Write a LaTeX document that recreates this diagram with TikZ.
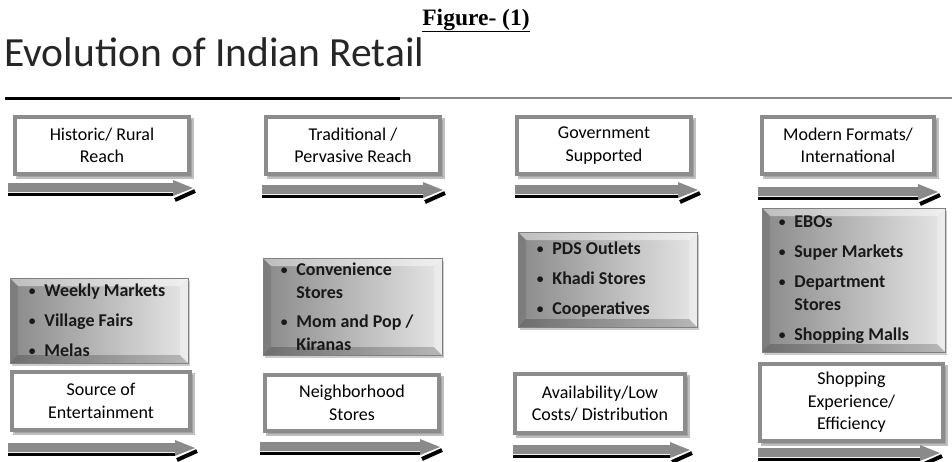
\documentclass[tikz,border=0pt]{standalone}
\usepackage{fontspec}
\usepackage{graphicx}
\setmainfont{Carlito}
\newfontfamily\figfont{Liberation Serif}
\usetikzlibrary{shadows,calc}
\definecolor{bordergray}{HTML}{8C8C8C}
\definecolor{arrowgray}{HTML}{8A8A8A}
\tikzset{
  labelbox/.style={rectangle, draw=bordergray, line width=4pt, fill=white, inner sep=0pt,
    align=center, font=\fontsize{18}{22.5}\selectfont,
    drop shadow={shadow xshift=3pt, shadow yshift=-3pt, fill=black!45, draw=black!45, line width=4pt, opacity=.55}},
  bevelbox/.style={rectangle, draw=black!50, line width=0.6pt, inner sep=0pt,
    drop shadow={shadow xshift=2pt, shadow yshift=-2.5pt, fill=black!40, opacity=.5},
    path picture={
      \coordinate (pnw) at (path picture bounding box.north west);
      \coordinate (pse) at (path picture bounding box.south east);
      \coordinate (pne) at (path picture bounding box.north east);
      \coordinate (psw) at (path picture bounding box.south west);
      \fill[left color=black!46, right color=black!10] (pnw) rectangle (pse);
      \fill[white, opacity=.45] (pnw) -- (pne) -- ($(pne)+(-8pt,-8pt)$) -- ($(pnw)+(8pt,-8pt)$) -- cycle;
      \fill[black, opacity=.10] (pnw) -- ($(pnw)+(8pt,-8pt)$) -- ($(psw)+(8pt,8pt)$) -- (psw) -- cycle;
      \fill[black, opacity=.20] (psw) -- ($(psw)+(8pt,8pt)$) -- ($(pse)+(-8pt,8pt)$) -- (pse) -- cycle;
      \fill[white, opacity=.30] (pne) -- (pse) -- ($(pse)+(-8pt,8pt)$) -- ($(pne)+(-8pt,-8pt)$) -- cycle;
    }},
  bullettext/.style={anchor=west, align=left, inner sep=0pt,
    font=\bfseries\fontsize{18}{23}\selectfont, text=black!90},
}
\newcommand{\bitem}[1]{\makebox[15.5pt][l]{\raisebox{1pt}{\scalebox{0.75}{\textbullet}}}#1}
\newcommand{\bcont}[1]{\hspace*{15.5pt}#1}
% \retarrow{x0}{tip}{ytop}
\newcommand{\retarrow}[3]{%
  \fill[arrowgray] (#1,#3) -- (#2-20,#3) -- (#2-20,#3-3) -- (#2,#3+5) -- (#2-20,#3+13)
     -- (#2-20,#3+9) -- (#1,#3+9) -- cycle;
  \draw[black, line width=3pt] (#1,#3+11.5) -- (#2-20,#3+11.5);
  \draw[black, line width=4pt] (#2-18,#3+17) -- (#2+2,#3+8);
}
\begin{document}
\begin{tikzpicture}[x=1pt,y=-1pt]
\useasboundingbox (0,0) rectangle (952,461);
\fill[white] (0,0) rectangle (952,461);

% titles
\node[anchor=base, font=\figfont\bfseries\fontsize{23.5}{26}\selectfont] (fig) at (476,25) {\underline{Figure- (1)}};
\node[anchor=base west, inner sep=0pt, font=\fontsize{41.5}{50}\selectfont, text=black!85] (title) at (4,66) {Evolution of Indian Retail};

% rule
\draw[black!45, line width=2pt] (400,98) -- (952,98);
\draw[black, line width=3pt] (5,98) -- (400,98);

% top label boxes
\node[labelbox, minimum width=174pt, minimum height=57pt] (t1) at (102,145.5) {Historic/ Rural\\Reach};
\node[labelbox, minimum width=174pt, minimum height=57pt] (t2) at (353,145.5) {Traditional /\\Pervasive Reach};
\node[labelbox, minimum width=174pt, minimum height=57pt] (t3) at (604,145.5) {Government\\Supported};
\node[labelbox, minimum width=172pt, minimum height=57pt] (t4) at (848,145.5) {Modern Formats/\\International};

% top arrows
\retarrow{8}{193}{183}
\retarrow{262}{443}{185}
\retarrow{515}{698}{185}
\retarrow{758}{938}{187}

% bullet boxes
\node[bevelbox, minimum width=178pt, minimum height=85pt] (b1) at (99,320.5) {};
\node[bevelbox, minimum width=179pt, minimum height=97pt] (b2) at (352.5,306.5) {};
\node[bevelbox, minimum width=179pt, minimum height=95pt] (b3) at (607.5,279.5) {};
\node[bevelbox, minimum width=183pt, minimum height=144pt] (b4) at (853.5,280) {};

\node[bullettext] (l1) at ([xshift=19pt]b1.west) {\bitem{Weekly Markets}\\[7pt]\bitem{Village Fairs}\\[7pt]\bitem{Melas}};
\node[bullettext] (l2) at ([xshift=18pt]b2.west) {\bitem{Convenience}\\\bcont{Stores}\\[6pt]\bitem{Mom and Pop /}\\\bcont{Kiranas}};
\node[bullettext] (l3) at ([xshift=19pt]b3.west) {\bitem{PDS Outlets}\\[7pt]\bitem{Khadi Stores}\\[7pt]\bitem{Cooperatives}};
\node[bullettext] (l4) at ([xshift=17pt]b4.west) {\bitem{EBOs}\\[7pt]\bitem{Super Markets}\\[7pt]\bitem{Department}\\\bcont{Stores}\\[7pt]\bitem{Shopping Malls}};

% bottom label boxes
\node[labelbox, minimum width=178pt, minimum height=58pt] (s1) at (101,401) {Source of\\Entertainment};
\node[labelbox, minimum width=174pt, minimum height=56pt] (s2) at (352,403) {Neighborhood\\Stores};
\node[labelbox, minimum width=170pt, minimum height=59pt] (s3) at (600,403.5) {Availability/Low\\Costs/ Distribution};
\node[labelbox, minimum width=183pt, minimum height=77pt] (s4) at (851.5,402.5) {Shopping\\Experience/\\Efficiency};

% bottom arrows
\retarrow{8}{195}{443}
\retarrow{260}{440}{442}
\retarrow{513}{690}{445}
\retarrow{758}{940}{448}
\end{tikzpicture}
\end{document}
